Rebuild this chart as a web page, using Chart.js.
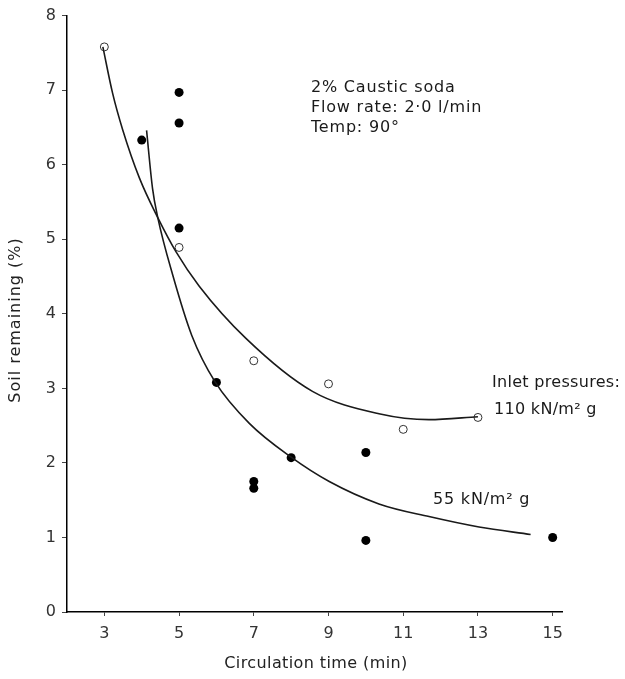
<!DOCTYPE html>
<html>
<head>
<meta charset="utf-8">
<script src="https://cdn.jsdelivr.net/npm/chart.js@4"></script>
<style>
  html, body { margin: 0; padding: 0; background: #fff; }
  #wrap { width: 625px; height: 679px; }
</style>
</head>
<body>
<div id="wrap"><canvas id="myChart"></canvas></div>
<script>
// Measured points, 110 kN/m2 g (open circles)
var openX = [3, 5, 7, 9, 11, 13];
var openY = [7.58, 4.89, 3.37, 3.06, 2.45, 2.61];

// Measured points, 55 kN/m2 g (filled circles)
var filledX = [4, 5, 5, 5, 6, 7, 7, 8, 10, 10, 15];
var filledY = [6.33, 6.97, 6.56, 5.15, 3.08, 1.75, 1.66, 2.07, 2.14, 0.96, 1.0];

// Fitted curves
var curve110X = [2.96, 3.22, 3.49, 3.94, 4.43, 4.92, 5.54, 6.79, 8.57, 10.35, 11.69, 13.0];
var curve110Y = [7.58, 6.96, 6.47, 5.82, 5.29, 4.83, 4.37, 3.67, 2.96, 2.66, 2.58, 2.62];
var curve55X = [4.13, 4.29, 4.43, 4.83, 5.34, 5.96, 6.88, 7.99, 9.02, 10.35, 11.69, 13.03, 14.41];
var curve55Y = [6.46, 5.68, 5.29, 4.52, 3.71, 3.09, 2.53, 2.08, 1.75, 1.45, 1.28, 1.14, 1.04];

var xTicks = [3, 5, 7, 9, 11, 13, 15];
var yTicks = [0, 1, 2, 3, 4, 5, 6, 7, 8];

var xTitle = 'Circulation time (min)';
var yTitle = 'Soil remaining (%)';

function pts(xs, ys) {
  return xs.map(function (x, i) { return { x: x, y: ys[i] }; });
}

var fontFamily = '"DejaVu Sans", sans-serif';
var ink = '#1a1a1a';

// Text notes and axis titles
var notes = {
  id: 'notes',
  afterDraw: function (chart) {
    var c = chart.ctx;
    c.save();
    c.fillStyle = ink;
    c.textBaseline = 'middle';
    c.textAlign = 'left';
    c.letterSpacing = '0.8px';
    c.font = '16px ' + fontFamily;
    c.fillText('2% Caustic soda', 311, 88);
    c.fillText('Flow rate: 2\u00b70 l/min', 311, 108);
    c.fillText('Temp: 90\u00b0', 311, 128);
    c.fillText('55 kN/m\u00b2 g', 433, 500);
    c.letterSpacing = '0.3px';
    c.fillText('Inlet pressures:', 492, 383);
    c.fillText('110 kN/m\u00b2 g', 494, 410);

    // axis titles
    c.fillStyle = '#222';
    c.textAlign = 'center';
    c.letterSpacing = '0.4px';
    c.fillText(xTitle, 316, 664);
    c.translate(16, 320);
    c.rotate(-Math.PI / 2);
    c.letterSpacing = '1px';
    c.fillText(yTitle, 0, 0);
    c.restore();
  }
};

var ctx = document.getElementById('myChart').getContext('2d');
var myChart = new Chart(ctx, {
  type: 'scatter',
  data: {
    datasets: [
      {
        label: 'curve 110',
        data: pts(curve110X, curve110Y),
        showLine: true,
        borderColor: ink,
        borderWidth: 1.6,
        pointRadius: 0,
        cubicInterpolationMode: 'monotone'
      },
      {
        label: 'curve 55',
        data: pts(curve55X, curve55Y),
        showLine: true,
        borderColor: ink,
        borderWidth: 1.6,
        pointRadius: 0,
        cubicInterpolationMode: 'monotone'
      },
      {
        label: '110 kN/m2 g',
        data: pts(openX, openY),
        pointRadius: 4,
        pointBackgroundColor: '#fff',
        pointBorderColor: '#333',
        pointBorderWidth: 1
      },
      {
        label: '55 kN/m2 g',
        data: pts(filledX, filledY),
        pointRadius: 4.5,
        pointBackgroundColor: '#000',
        pointBorderColor: '#000',
        pointBorderWidth: 0
      }
    ]
  },
  options: {
    responsive: true,
    maintainAspectRatio: false,
    animation: false,
    layout: {
      padding: { top: 8, right: 63, left: 0, bottom: 0 }
    },
    scales: {
      x: {
        type: 'linear',
        min: 2,
        max: 15.25,
        afterBuildTicks: function (scale) {
          scale.ticks = xTicks.map(function (v) { return { value: v }; });
        },
        afterFit: function (scale) { scale.height = 67; },
        grid: {
          display: true,
          drawOnChartArea: false,
          drawTicks: true,
          tickLength: 4,
          color: '#444'
        },
        border: { display: true, color: '#000', width: 1.5 },
        ticks: {
          color: '#333',
          padding: 8,
          font: { family: fontFamily, size: 16 }
        }
      },
      y: {
        type: 'linear',
        min: 0,
        max: 8,
        afterBuildTicks: function (scale) {
          scale.ticks = yTicks.map(function (v) { return { value: v }; });
        },
        afterFit: function (scale) { scale.width = 67; },
        grid: {
          display: true,
          drawOnChartArea: false,
          drawTicks: true,
          tickLength: 5,
          color: '#444'
        },
        border: { display: true, color: '#000', width: 1.5 },
        ticks: {
          color: '#333',
          padding: 6,
          font: { family: fontFamily, size: 16 }
        }
      }
    },
    plugins: {
      legend: { display: false },
      tooltip: { enabled: false }
    }
  },
  plugins: [notes]
});
</script>
</body>
</html>
